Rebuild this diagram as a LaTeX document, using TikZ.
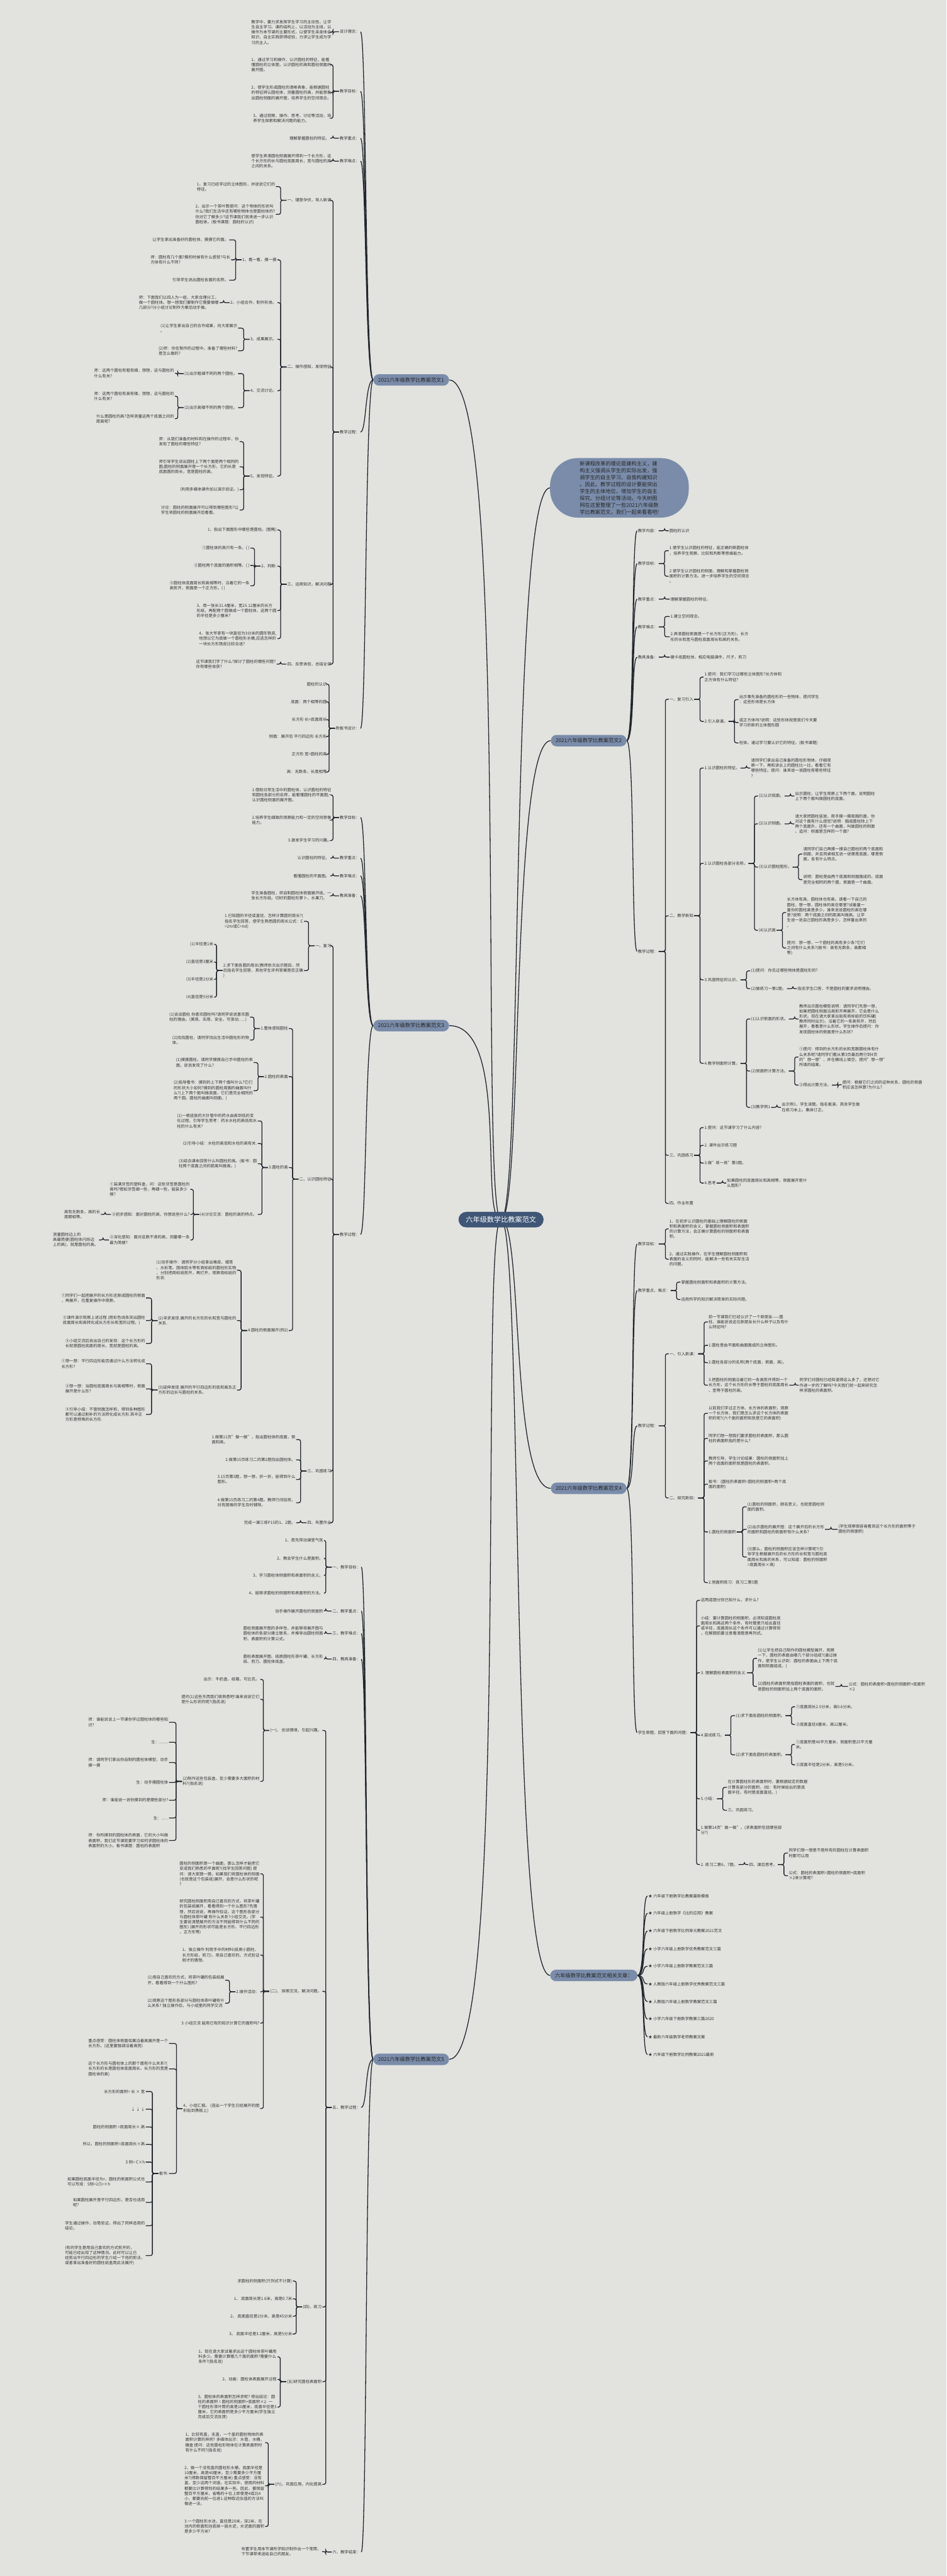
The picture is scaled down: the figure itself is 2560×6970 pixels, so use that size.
\documentclass[tikz,border=0pt]{standalone}
\usepackage{fontspec}
\setmainfont{Noto Sans CJK SC}
\definecolor{bgc}{HTML}{E2E2DE}
\definecolor{ln}{HTML}{22272E}
\definecolor{txt}{HTML}{333333}
\definecolor{brc}{HTML}{7A8CAA}
\definecolor{ctrc}{HTML}{3F5676}
\pgfdeclarelayer{back}\pgfdeclarelayer{bg}\pgfsetlayers{back,bg,main}
\tikzset{
 tx/.style={font=\fontsize{10.8}{14}\selectfont, text=txt, inner xsep=2pt, inner ysep=1pt, align=left},
 lt/.style={tx, anchor=east},
 rt/.style={tx, anchor=west},
 conn/.style={draw=ln, line width=2.2pt, rounded corners=5pt},
 brn/.style={fill=brc, text=black!85, rounded corners=15.5pt, minimum height=31pt, inner xsep=13pt, font=\fontsize{14}{17}\selectfont},
 rootn/.style={fill=brc, text=black!85, rounded corners=75pt, minimum width=375pt, minimum height=161pt, align=left, font=\fontsize{14}{18.6}\selectfont},
 ctrn/.style={fill=ctrc, text=white, rounded corners=21pt, minimum height=42pt, inner xsep=20pt, font=\fontsize{19}{22}\selectfont},
}
\newcommand\brL[3]{\foreach \kid in {#3}{\draw[conn] (#1.west) -- ++(-#2,0) |- (\kid.east);}}
\newcommand\brR[3]{\foreach \kid in {#3}{\draw[conn] (#1.east) -- ++(#2,0) |- (\kid.west);}}
\newcommand\cvL[2]{\foreach \kid in {#2}{\draw[conn] (#1.west) .. controls +(-22,0) and +(16,0) .. (\kid.east);}}
\newcommand\cvR[2]{\foreach \kid in {#2}{\draw[conn] (#1.east) .. controls +(22,0) and +(-16,0) .. (\kid.west);}}
\begin{document}
\begin{tikzpicture}[x=1pt,y=-1pt]
\useasboundingbox (0,0) rectangle (2560,6970);
\begin{pgfonlayer}{back}\fill[bgc] (0,0) rectangle (2560,6970);\end{pgfonlayer}

% ---------- centre ----------
\node[ctrn] (ctr) at (1355,3300) {六年级数学比教案范文};

% ---------- branch nodes ----------
\node[brn] (b1) at (1112,1028) {2021六年级数学比教案范文1};
\node[brn] (b3) at (1112,2775) {2021六年级数学比教案范文3};
\node[brn] (b5) at (1112,5572) {2021六年级数学比教案范文5};
\node[rootn] (rt0) at (1675,1320) {新课程改革的理论是建构主义，建\\构主义强调从学生的实际出发，强\\调学生的自主学习、自我构建知识\\。因此，教学过程的设计要能突出\\学生的主体地位，增加学生的自主\\探究、分组讨论等活动。今天树图\\网在这里整理了一些2021六年级数\\学比教案范文，我们一起来看看吧!};
\node[brn] (b2) at (1592,2004) {2021六年级数学比教案范文2};
\node[brn] (b4) at (1592,4027) {2021六年级数学比教案范文4};
\node[brn] (b6) at (1606,5345) {六年级数学比教案范文相关文章：};

% ================= 范文1 =================
\node[lt] (p1a) at (975,86) {设计理念：};
\node[lt] (p1b) at (975,247) {教学目标：};
\node[lt] (p1c) at (975,374) {教学重点：};
\node[lt] (p1d) at (975,436) {教学难点：};
\node[lt] (p1e) at (975,1169) {教学过程：};
\node[lt] (p1f) at (975,1971) {附板书设计：};
\node[lt] (q1) at (898,87) {教学中，要力求发挥学生学习的主动性，让学\\生自主学习。课的结构上，以活动为主线，以\\操作为本节课的主要形式，以使学生亲身体会\\知识，自主实践获得经验，力求让学生成为学\\习的主人。};
\node[lt] (q2) at (898,175) {1、通过学习和操作，认识圆柱的特征，能看\\懂圆柱的立体图，认识圆柱的高和圆柱侧面的\\展开图。};
\node[lt] (q3) at (898,251) {2、使学生形成圆柱的清晰表象，能根据圆柱\\的特征辨认圆柱体，测量圆柱的高，并能想象\\出圆柱侧面的展开图，培养学生的空间观念。};
\node[lt] (q4) at (898,320) {3、通过观察、操作、思考、讨论等活动，培\\养学生探索和解决问题的能力。};
\node[lt] (q5) at (893,374) {理解掌握圆柱的特征。};
\node[lt] (q6) at (898,436) {使学生弄清圆柱侧面展开得到一个长方形，这\\个长方形的长与圆柱底面周长，宽与圆柱的高\\之间的关系。};
\node[lt] (s1) at (898,542) {一、铺垫孕伏，导入新课};
\node[lt] (s2) at (898,993) {二、操作感知，发现特征};
\node[lt] (s3) at (898,1581) {三、运用知识，解决问题};
\node[lt] (s4) at (898,1797) {四、反思体验，总结全课};
\node[lt] (t1) at (746,505) {1、复习已经学过的立体图形，并说说它们的\\特征。};
\node[lt] (t2) at (746,580) {2、出示一个茶叶筒提问：这个物体的形状叫\\什么?我们生活中还有哪些物体也是圆柱体的?\\你对它了解多少?这节课我们就来进一步认识\\圆柱体。(板书课题：圆柱的认识)};
\node[lt] (u1) at (750,703) {1、看一看、摸一摸};
\node[lt] (u2) at (750,819) {2、小组合作，制作形体。};
\node[lt] (u3) at (750,918) {3、成果展示。};
\node[lt] (u4) at (750,1057) {4、交流讨论。};
\node[lt] (u5) at (750,1288) {5、发现特征。};
\node[lt] (v1) at (620,649) {让学生拿出准备好的圆柱体，摸摸它的面。};
\node[lt] (v2) at (625,703) {师：圆柱有几个面?摸的时候有什么感觉?与长\\方体有什么不同?};
\node[lt] (v3) at (620,758) {引导学生说出圆柱各面的名称。};
\node[lt] (v4) at (594,819) {师：下面我们以四人为一组，大家合理分工，\\做一个圆柱体。想一想我们要制作它需要做哪\\几部分?分小组讨论制作方案后动手做。};
\node[lt] (v5) at (644,888) {(1)让学生拿出自己的合作成果，向大家展示\\。};
\node[lt] (v6) at (644,949) {(2)师：你在制作的过程中，准备了哪些材料?\\是怎么做的?};
\node[lt] (v7) at (644,1011) {(1)出示粗细不同的两个圆柱。};
\node[lt] (v8) at (644,1103) {(2)出示高矮不同的两个圆柱。};
\node[lt] (w1) at (473,1010) {师：这两个圆柱有粗有细，想想，这与圆柱的\\什么有关?};
\node[lt] (w2) at (473,1072) {师：这两个圆柱有高有矮，想想，这与圆柱的\\什么有关?};
\node[lt] (w3) at (473,1133) {什么是圆柱的高?怎样测量这两个底面之间的\\距离呢?};
\node[lt] (v9) at (648,1195) {师：从我们准备的材料和在操作的过程中，你\\发现了圆柱的哪些特征?};
\node[lt] (v10) at (648,1263) {师引导学生说出圆柱上下两个面是两个相同的\\圆;圆柱的侧面展开是一个长方形，它的长是\\底面圆的周长，宽是圆柱的高。};
\node[lt] (v11) at (648,1325) {(利用多媒体课件加以演示验证。)};
\node[lt] (v12) at (648,1380) {讨论：圆柱的侧面展开可以得到哪些图形?让\\学生将圆柱的侧面展开后看看。};
\node[lt] (x1) at (750,1434) {1、指出下面图形中哪些是圆柱。(图略)};
\node[lt] (x2) at (750,1532) {2、判断:};
\node[lt] (y1) at (677,1483) {①圆柱体的高只有一条。( )};
\node[lt] (y2) at (677,1530) {②圆柱两个底面的面积相等。( )};
\node[lt] (y3) at (677,1585) {③圆柱体底面周长和高相等时，沿着它的一条\\高剪开，侧面是一个正方形。( )};
\node[lt] (x3) at (750,1652) {3、用一张长31.4厘米，宽25.12厘米的长方\\形纸，再配两个圆做成一个圆柱体，这两个圆\\的半径是多少厘米?};
\node[lt] (x4) at (750,1728) {4、张大爷家有一块直径为3分米的圆形铁皮,\\他想以它为底做一个圆柱形水桶,应选怎样的\\一块长方形铁皮比较合适?};
\node[lt] (x5) at (748,1797) {这节课我们学了什么?探讨了圆柱的哪些问题?\\你有哪些收获?};
\node[lt] (z1) at (886,1851) {圆柱的认识};
\node[lt] (z2) at (886,1899) {底面：两个相等的圆};
\node[lt] (z3) at (886,1947) {长方形 长=底面周长};
\node[lt] (z4) at (886,1993) {侧面：展开后 平行四边形 长方形};
\node[lt] (z5) at (886,2041) {正方形 宽=圆柱的高};
\node[lt] (z6) at (886,2089) {高：无数条，长度相等};

% ================= 范文3 =================
\node[lt] (p3a) at (975,2212) {教学目标：};
\node[lt] (p3b) at (975,2322) {教学重点：};
\node[lt] (p3c) at (975,2370) {教学难点：};
\node[lt] (p3d) at (975,2424) {教具准备：};
\node[lt] (p3e) at (975,3340) {教学过程：};
\node[lt] (c1) at (898,2151) {1.借助日常生活中的圆柱体，认识圆柱的特征\\和圆柱各部分的名称，能看懂圆柱的平面图;\\认识圆柱侧面的展开图。};
\node[lt] (c2) at (898,2219) {2.培养学生细致的观察能力和一定的空间想像\\能力。};
\node[lt] (c3) at (898,2274) {3.激发学生学习的兴趣。};
\node[lt] (c4) at (893,2322) {认识圆柱的特征。};
\node[lt] (c5) at (893,2370) {看懂圆柱的平面图。};
\node[lt] (c6) at (898,2424) {学生准备圆柱，师自制圆柱体侧面展开纸，一\\张长方形纸。切好的圆柱形萝卜，水果刀。};
\node[lt] (d1) at (898,2559) {一、复习};
\node[lt] (d2) at (898,3190) {二、认识圆柱特征};
\node[lt] (d3) at (898,3980) {三、巩固练习};
\node[lt] (d4) at (898,4120) {四、布置作业};
\node[lt] (e1) at (822,2493) {1.已知圆的半径或直径，怎样计算圆的周长?(\\指名学生回答，使学生熟悉圆的周长公式：C\\=2πr或C=πd)};
\node[lt] (e2) at (822,2626) {2.求下面各圆的周长(教师依次出示题目，然\\后指名学生回答，其他学生评判答案是否正确\\)};
\node[lt] (f1) at (579,2555) {(1)半径是1米};
\node[lt] (f2) at (579,2603) {(2)直径是3厘米};
\node[lt] (f3) at (579,2650) {(3)半径是2分米};
\node[lt] (f4) at (579,2698) {(4)直径是5分米};
\node[lt] (g1) at (781,2783) {1.整体感知圆柱};
\node[lt] (g2) at (781,2913) {2.圆柱的表面};
\node[lt] (g3) at (781,3159) {3.圆柱的高};
\node[lt] (g4) at (781,3600) {4.圆柱的侧面展开(例2)};
\node[lt] (h1) at (676,2752) {(1)谈谈圆柱.你喜欢圆柱吗?请同学说说喜欢圆\\柱的理由。(美观、实用、安全、可滚动......)};
\node[lt] (h2) at (676,2814) {(2)找找圆柱，请同学找出生活中圆柱形的物\\体。};
\node[lt] (h3) at (686,2875) {(1)摸摸圆柱。请同学摸摸自己手中圆柱的表\\面，说说发现了什么?};
\node[lt] (h4) at (686,2951) {(2)指导看书：摸到的上下两个面叫什么?它们\\的形状大小如何?摸到的圆柱周围的曲面叫什\\么?(上下两个面叫做底面，它们是完全相同的\\两个圆。圆柱的曲面叫侧面。)};
\node[lt] (h5) at (697,3033) {(1)一根竖放的大针管中的药水由高到低的变\\化过程，引导学生思考：药水水柱的高低和水\\柱的什么有关?};
\node[lt] (h6) at (697,3094) {(2)引导小结：水柱的高低和水柱的高有关.};
\node[lt] (h7) at (697,3149) {(3)结合课本回答什么叫圆柱的高。(板书：圆\\柱两个底面之间的距离叫做高。)};
\node[lt] (h8) at (697,3286) {(4)讨论交流：圆柱的高的特点。};
\node[lt] (i1) at (515,3218) {①装满牙签的塑料盒，问：这些牙签是圆柱的\\高吗?假如牙签细一些，再细一些，能装多少\\根?};
\node[lt] (i2) at (515,3286) {②初步感知：面对圆柱的高，你想说些什么?};
\node[lt] (i3) at (515,3355) {③深化感知：面对这数不清的高，测量哪一条\\最为简便?};
\node[lt] (j1) at (273,3286) {高有无数条，高的长\\度都相等。};
\node[lt] (j2) at (268,3355) {测量圆柱边上的\\高最简便(圆柱体闪烁边\\上的高)，就是圆柱的高。};
\node[lt] (h9) at (641,3437) {(1)动手操作：请同学分小组拿出橡皮、蜡笔\\、水彩笔、固体胶水等有商标纸的圆柱形实物\\，分别把商标纸剪开，再打开，观察商标纸的\\形状.};
\node[lt] (h10) at (641,3573) {(2)寻求发现.展开的长方形的长和宽与圆柱的\\关系.};
\node[lt] (h11) at (641,3761) {(3)延伸发现.展开的平行四边形的底和高及正\\方形的边长与圆柱的关系。};
\node[lt] (k1) at (395,3512) {①同学们一起把展开的长方形还原成圆柱的侧面\\，再展开，在重复操作中观察。};
\node[lt] (k2) at (395,3573) {②课件演示观察上述过程.(用彩色线条突出圆柱\\底面周长和高转化成长方形长和宽的过程。)};
\node[lt] (k3) at (395,3635) {③小组交流后说出自己的发现：这个长方形的\\长就是圆柱底面的周长，宽就是圆柱的高。};
\node[lt] (k4) at (395,3690) {①想一想：平行四边形能否通过什么方法转化成\\长方形?};
\node[lt] (k5) at (395,3758) {②想一想：当圆柱底面周长与高相等时，侧面\\展开是什么形?};
\node[lt] (k6) at (395,3827) {③引导小结：不管侧面怎样剪，得到各种图形\\都可以通过割补的方法转化成长方形.其中正\\方形是特殊的长方形.};
\node[lt] (l1) at (801,3895) {1.做第11页"做一做"，指出圆柱体的底面，侧\\面和高。};
\node[lt] (l2) at (801,3950) {2.做第15页练习二的第2题找出圆柱体。};
\node[lt] (l3) at (801,4003) {3.15页第3题，想一想，折一折，能得到什么\\图形。};
\node[lt] (l4) at (801,4066) {4.做第15页练习二的第4题。教师行间巡视，\\对有困难的学生及时辅导。};
\node[lt] (l5) at (801,4120) {完成一课三练P15的1、2题。};

% ================= 范文5 =================
\node[lt] (p5a) at (977,4240) {一、教学目标：};
\node[lt] (p5b) at (977,4359) {二、教学重点：};
\node[lt] (p5c) at (977,4420) {三、教学难点：};
\node[lt] (p5d) at (977,4489) {四、教具准备：};
\node[lt] (p5e) at (977,5702) {五、教学过程：};
\node[lt] (p5f) at (977,6905) {六、教学结束：};
\node[lt] (m1) at (876,4168) {1、首先带动课堂气氛};
\node[lt] (m2) at (876,4216) {2、教会学生什么是面积。};
\node[lt] (m3) at (876,4263) {3、学习圆柱体侧面积和表面积的含义。};
\node[lt] (m4) at (876,4311) {4、能够求圆柱的侧面积和表面积的方法。};
\node[lt] (m5) at (876,4359) {动手操作展开圆柱的侧面积};
\node[lt] (m6) at (876,4420) {圆柱侧面展开图的多样性，并能够将展开图与\\圆柱体的各部分建立联系，并推导出圆柱侧面\\积、表面积的计算公式。};
\node[lt] (m7) at (876,4489) {圆柱表面展开图、纸质圆柱形茶叶罐、长方形\\纸、剪刀、圆柱体纸盒。};
\node[lt] (n1) at (872,4682) {(一)、 创设情境，引起兴趣。};
\node[lt] (n2) at (872,5388) {(二)、 探索交流，解决问题。};
\node[lt] (n4) at (872,6242) {(四)、练习};
\node[lt] (n5) at (872,6444) {(五)研究圆柱表面积};
\node[lt] (n6) at (872,6722) {(六)、巩固应用，内化提高};
\node[lt] (o1) at (704,4544) {出示：牛奶盒，纸箱，可比克。};
\node[lt] (o2) at (704,4598) {提问(1)这些东西我们很熟悉吧!谁来说说它们\\是什么形状的呢?(指名说)};
\node[lt] (o3) at (704,4820) {(2)制作这些包装盒，至少需要多大面积的材\\料?(指名说)};
\node[lt] (r1) at (457,4660) {师：谁能说说上一节课你学过圆柱体的哪些知\\识?};
\node[lt] (r2) at (457,4714) {生：........};
\node[lt] (r3) at (457,4769) {师：请同学们拿出你自制的圆柱体模型，动手\\摸一摸};
\node[lt] (r4) at (457,4823) {生：动手摸圆柱体};
\node[lt] (r5) at (457,4871) {师：谁能说一说你摸到的是哪些部分?};
\node[lt] (r6) at (457,4919) {生：......};
\node[lt] (r7) at (457,4980) {师：你所摸到的圆柱体的表面，它的大小叫做\\表面积，我们这节课就要学习如何求圆柱体的\\表面积的大小。板书课题：圆柱的表面积};
\node[lt] (o4) at (704,5070) {圆柱的侧面积是一个曲面，那么怎样才能把它\\变成我们熟悉的平面呢?(找学生回答问题) 提\\问：请大家猜一猜，如果我们将圆柱体的侧面\\(也就是这个包装纸)展开，会是什么形状的呢\\?};
\node[lt] (o5) at (704,5187) {研究圆柱侧面积用自己喜欢的方式，将茶叶罐\\的包装纸展开，看看得到一个什么图形?先猜\\想，然后说说，再操作验证。这个图形各部分\\与圆柱体茶叶罐 有什么关系?小组交流。(学\\生要说清楚展开的方法不同能得到什么不同的\\图形) (展开的形状可能是长方形、平行四边形\\、正方形等)};
\node[lt] (o6) at (704,5290) {1、独立操作 利用手中的材料(纸质小圆柱，\\长方形纸，剪刀)，用自己喜欢的。方式验证\\刚才的猜想。};
\node[lt] (o7) at (704,5389) {2.操作活动：};
\node[lt] (o8) at (704,5474) {3.小组交流 能用已有的知识计算它的面积吗?};
\node[lt] (o9) at (704,5705) {4、小组汇报。 (选出一个学生已经展开的图\\形贴到黑板上)};
\node[lt] (r8) at (609,5358) {(1)用自己喜欢的方式，将茶叶罐的包装纸展\\开，看看得到一个什么图形?};
\node[lt] (r9) at (609,5420) {(2)观察这个图形各部分与圆柱体茶叶罐有什\\么关系? 独立操作后，与小组里的同学交流};
\node[lt] (r10) at (457,5529) {重点感受：圆柱体侧面如果沿着高展开是一个\\长方形。(这里要强调沿着高剪)};
\node[lt] (r11) at (457,5598) {这个长方形与圆柱体上的那个面有什么关系?(\\长方形的长是圆柱体底面周长、长方形的宽是\\圆柱体的高)};
\node[lt] (r12) at (457,5881) {板书:};
\node[lt] (bs1) at (394,5659) {长方形的面积= 长 × 宽};
\node[lt] (bs2) at (394,5707) {↓ ↓ ↓};
\node[lt] (bs3) at (394,5755) {圆柱的侧面积 =底面周长× 高};
\node[lt] (bs4) at (394,5802) {所以，圆柱的侧面积=底面周长×高};
\node[lt] (bs5) at (394,5850) {S 侧= C×h};
\node[lt] (bs6) at (394,5904) {如果圆柱底面半径为r，圆柱的侧面积公式也\\可以写成：S侧=2∏r×h};
\node[lt] (bs7) at (394,5959) {如果圆柱展开是平行四边形，是否也适用\\呢?};
\node[lt] (bs8) at (394,6022) {学生通过操作，动笔验证，得出了同样适用的\\结论。};
\node[lt] (bs9) at (394,6103) {(有的学生是用自己喜欢的方式剪开的，\\可能已经出现了这种情况。此时可以让已\\经剪出平行四边形的学生介绍一下他的剪法，\\或者拿出准备好的圆柱纸盒用此法展开)};
\node[lt] (o10) at (792,6172) {求圆柱的侧面积(只列式不计算)};
\node[lt] (o11) at (792,6220) {1、 底面周长是1.6米，高是0.7米};
\node[lt] (o12) at (792,6267) {2、 底面直径是2分米，高是45分米};
\node[lt] (o13) at (792,6315) {3、 底面半径是3.2厘米，高是5分米};
\node[lt] (o14) at (750,6377) {1、现在请大家试着求出这个圆柱体茶叶罐用\\料多少。需要计算哪几个面的面积?需要什么\\条件?(指名说)};
\node[lt] (o15) at (750,6438) {2、动画：圆柱体表面展开过程};
\node[lt] (o16) at (750,6513) {3、圆柱体的表面积怎样求呢? 得出结论：圆\\柱的表面积 = 圆柱的侧面积+底面积×2. 一\\个圆柱形茶叶筒的高是10厘米，底面半径是3\\厘米，它的表面积是多少平方厘米(学生独立\\完成后交流反馈)};
\node[lt] (o17) at (717,6609) {1、比较有盖，无盖，一个盖的圆柱物体的表\\面积计算的异同? 多媒体出示：水管，水桶，\\糖盒 提问：这些圆柱形物体在计算表面积时\\有什么不同?(指名说)};
\node[lt] (o18) at (717,6726) {2、做一个没有盖的圆柱形水桶，底面半径是\\10厘米，高是40厘米，至少需要多少平方厘\\米?(得数保留整百平方厘米) 重点感受：没有\\盖，至少这两个词语。在实际中，使用的材料\\都要比计算得到的结果多一些。因此，要保留\\整百平方厘米，省略的十位上即使是4或比4\\小，都要向前一位进1.这种取近似值的方法叫\\做进一法。};
\node[lt] (o19) at (717,6836) {3.一个圆柱形水池，直径是20米，深2米，在\\池内的侧面和池底抹一层水泥，水泥面的面积\\是多少平方米?};
\node[lt] (o20) at (871,6904) {布置学生用本节课所学知识制作出一个笔筒，\\下节课带来送给自己的朋友。};

% ================= 范文2 =================
\node[rt] (P2a) at (1723,1436) {教学内容：};
\node[rt] (P2b) at (1723,1525) {教学目标：};
\node[rt] (P2c) at (1723,1621) {教学重点：};
\node[rt] (P2d) at (1723,1696) {教学难点：};
\node[rt] (P2e) at (1723,1778) {教具准备：};
\node[rt] (P2f) at (1723,2574) {教学过程：};
\node[rt] (Q1) at (1808,1436) {圆柱的认识};
\node[rt] (Q2) at (1808,1490) {1.使学生认识圆柱的特征，能正确判断圆柱体\\，培养学生观察、比较和判断等思维能力。};
\node[rt] (Q3) at (1808,1559) {2.使学生认识圆柱的侧面，理解和掌握圆柱侧\\面积的计算方法。进一步培养学生的空间观念\\。};
\node[rt] (Q4) at (1811,1621) {理解掌握圆柱的特征。};
\node[rt] (Q5) at (1811,1668) {1.建立空间观念。};
\node[rt] (Q6) at (1811,1723) {2.弄清圆柱侧面是一个长方形(正方形)，长方\\形的长和宽与圆柱底面周长和高的关系。};
\node[rt] (Q7) at (1811,1778) {硬卡纸圆柱体，相应电脑课件，尺子，剪刀};
\node[rt] (S1) at (1808,1892) {一、复习引入};
\node[rt] (S2) at (1808,2478) {二、教学新知};
\node[rt] (S3) at (1808,3126) {三、巩固练习};
\node[rt] (S4) at (1808,3256) {四、作业布置};
\node[rt] (T1) at (1903,1832) {1.提问：我们学习过哪些立体图形?长方体和\\正方体有什么特征?};
\node[rt] (T2) at (1903,1952) {2.引入新课。};
\node[rt] (U1) at (1997,1893) {出示事先准备的圆柱形的一些物体，提问学生\\：这些形体是长方体};
\node[rt] (U2) at (1997,1955) {或正方体吗?说明：这些形体就是我们今天要\\学习的新的立体图形圆};
\node[rt] (U3) at (1997,2010) {柱体。通过学习要认识它的特征。(板书课题)};
\node[rt] (T3) at (1903,2078) {1.认识圆柱的特征。};
\node[rt] (T4) at (1903,2336) {2.认识圆柱各部分名称。};
\node[rt] (T5) at (1903,2651) {3.巩固特征的认识。};
\node[rt] (T6) at (1903,2877) {4.教学侧面积计算。};
\node[rt] (U4) at (2029,2078) {请同学们拿出自己准备的圆柱形物体，仔细观\\察一下，再和讲台上的圆柱比一比，看看它有\\哪些特征。提问：谁来说一说圆柱有哪些特征\\?};
\node[rt] (V1) at (2050,2154) {(1)认识底面。};
\node[rt] (V2) at (2050,2229) {(2)认识侧面。};
\node[rt] (V3) at (2050,2346) {(3)认识圆柱图形。};
\node[rt] (V4) at (2050,2517) {(4)认识高};
\node[rt] (W1) at (2148,2154) {出示圆柱，让学生观察上下两个面。说明圆柱\\上下两个面叫做圆柱的底面。};
\node[rt] (W2) at (2148,2229) {请大家把圆柱竖放，用手摸一摸周围的面，你\\对这个面有什么感觉?说明：围成圆柱除上下\\两个底面外，还有一个曲面，叫做圆柱的侧面\\。追问：侧面是怎样的一个面?};
\node[rt] (W3) at (2170,2311) {请同学们自己再摸一摸自己圆柱的两个底面和\\侧面，并且同桌相互说一说哪是底面，哪是侧\\面，各有什么特点。};
\node[rt] (W4) at (2170,2380) {说明：圆柱是由两个底面和侧面围成的。底面\\是完全相同的两个圆，侧面是一个曲面。};
\node[rt] (W5) at (2126,2469) {长方体有高，圆柱体也有高。请看一下自己的\\圆柱，想一想，圆柱体的高在哪里?试着量一\\量你的圆柱高是多少。谁来说说圆柱的高在哪\\里?说明：两个底面之间的距离叫做高。让学\\生说一说自己圆柱的高是多少，怎样量出来的\\。};
\node[rt] (W6) at (2126,2565) {提问：想一想，一个圆柱的高有多少条?它们\\之间有什么关系?(板书：高有无数条，高都相\\等)};
\node[rt] (V5) at (2029,2627) {(1)提问：你见过哪些物体是圆柱形的?};
\node[rt] (V6) at (2029,2675) {(2)做练习一第1题。};
\node[rt] (W7) at (2155,2675) {指名学生口答，不是圆柱的要求说明理由。};
\node[rt] (V7) at (2029,2757) {(1)认识侧面的形状。};
\node[rt] (V8) at (2029,2898) {(2)侧面积计算方法。};
\node[rt] (V9) at (2029,2996) {(3)教学例1};
\node[rt] (W8) at (2159,2757) {教师出示圆柱模型说明：请同学们先想一想，\\如果把圆柱侧面沿高剪开再展开，它会是什么\\形状。现在请大家拿出贴有商标纸的饮料罐(\\教师同时出示)，沿着它的一条高剪开，然后\\展开，看看是什么形状。学生操作后提问：你\\发现圆柱体的侧面是什么形状?};
\node[rt] (W9) at (2159,2860) {①提问：得到的长方形的长和宽跟圆柱体有什\\么关系呢?请同学们看从第3页最后两行到4页\\的"想一想"，并在横线上填空。提问"想一想"\\所填的结果。};
\node[rt] (W10) at (2159,2936) {②得出计算方法。};
\node[rt] (X1) at (2276,2935) {提问：根据它们之间的这种关系，圆柱的侧面\\积应该怎样算?为什么?};
\node[rt] (W11) at (2112,2996) {出示例1，学生读题。指名板演，其余学生做\\在练习本上。集体订正。};
\node[rt] (T7) at (1903,3051) {1.提问：这节课学习了什么内容?};
\node[rt] (T8) at (1903,3099) {2. 课件出示练习题};
\node[rt] (T9) at (1903,3147) {3.做"练一练"第3题。};
\node[rt] (T10) at (1903,3201) {4.思考};
\node[rt] (U5) at (1964,3201) {如果圆柱的底面周长和高相等，侧面展开是什\\么图形?};

% ================= 范文4 =================
\node[rt] (P4a) at (1723,3366) {教学目标：};
\node[rt] (P4b) at (1723,3492) {教学重点，难点：};
\node[rt] (P4c) at (1723,3858) {教学过程：};
\node[rt] (P4d) at (1723,4688) {学生审题，回答下面的问题：};
\node[rt] (Y1) at (1808,3325) {1、在初步认识圆柱的基础上理解圆柱的侧面\\积和表面积的含义，掌握圆柱侧面积和表面积\\的计算方法，会正确计算圆柱的侧面积和表面\\积。};
\node[rt] (Y2) at (1808,3407) {2、通过实践操作，在学生理解圆柱侧面积和\\表面的含义的同时，能解决一些有关实际生活\\的问题。};
\node[rt] (Y3) at (1840,3469) {掌握圆柱侧面积和表面积的计算方法。};
\node[rt] (Y4) at (1840,3516) {运用所学的知识解决简单的实际问题。};
\node[rt] (Y5) at (1808,3663) {一、引入新课：};
\node[rt] (Y6) at (1808,4053) {二、探究新知：};
\node[rt] (Z1) at (1914,3577) {前一节课我们已经认识了一个新朋友——圆\\柱，谁能说说这位新朋友长什么样子以及有什\\么特征吗?};
\node[rt] (Z2) at (1914,3640) {1.圆柱是由平面和曲面围成的立体图形。};
\node[rt] (Z3) at (1914,3687) {2.圆柱各部分的名称(两个底面，侧面，高)。};
\node[rt] (Z4) at (1914,3748) {3.把圆柱的侧面沿着它的一条高剪开得到一个\\长方形，这个长方形的长等于圆柱的底面周长\\、宽等于圆柱的高。};
\node[rt] (Z5) at (2160,3748) {同学们对圆柱已经知道得这么多了，还想对它\\作进一步的了解吗?今天我们就一起来研究怎\\样求圆柱的表面积。};
\node[rt] (Z6) at (1914,3824) {以前我们学过正方体、长方体的表面积，观察\\一个长方体，我们是怎么求这个长方体的表面\\积的呢?(六个面的面积和就是它的表面积)};
\node[rt] (Z7) at (1914,3892) {同学们想一想我们要求圆柱的表面积，那么圆\\柱的表面积指的是什么?};
\node[rt] (Z8) at (1914,3953) {教师引导，学生讨论结果：圆柱的侧面积加上\\两个底面的面积就是圆柱的表面积。};
\node[rt] (Z9) at (1914,4016) {板书：(圆柱的表面积=圆柱的侧面积+两个底\\面的面积)};
\node[rt] (Z10) at (1914,4145) {1.圆柱的侧面积};
\node[rt] (Z11) at (1914,4282) {2.侧面积练习：练习二第5题};
\node[rt] (A1) at (2019,4077) {(1)圆柱的侧面积，顾名思义，也就是圆柱侧\\面的面积。};
\node[rt] (A2) at (2019,4138) {(2)出示圆柱的展开图：这个展开后的长方形\\的面积和圆柱的侧面积有什么关系?};
\node[rt] (A3) at (2019,4213) {(3)那么，圆柱的侧面积应该怎样计算呢?(引\\导学生根据展开后的长方形的长和宽与圆柱底\\面周长和高的关系，可以知道：圆柱的侧面积\\=底面周长×高)};
\node[rt] (A4) at (2265,4138) {(学生观察很容易看到这个长方形的面积等于\\圆柱的侧面积)};
\node[rt] (B1) at (1893,4330) {这两道题分别已知什么，求什么?};
\node[rt] (B2) at (1893,4399) {小结：要计算圆柱的侧面积，必须知道圆柱底\\面周长和高这两个条件，有时题里只给出直径\\或半径，底面周长这个条件可以通过计算得到\\，在解题前要注意看清题意再列式。};
\node[rt] (B3) at (1893,4526) {3. 理解圆柱表面积的含义.};
\node[rt] (B4) at (1893,4695) {4.尝试练习。};
\node[rt] (B5) at (1893,4867) {5.小结：};
\node[rt] (B6) at (1893,4952) {1.做第14页"做一做"。(求表面积包括哪些部\\分?)};
\node[rt] (B7) at (1893,5045) {2. 练习二第6，7题。};
\node[rt] (C1) at (2047,4487) {(1)让学生把自己制作的圆柱模型展开，观察\\一下，圆柱的表面由哪几个部分组成?(通过操\\作，使学生认识到：圆柱的表面由上下两个底\\面和侧面组成。)};
\node[rt] (C2) at (2047,4563) {(2)圆柱的表面积是指圆柱表面的面积，也就\\是圆柱的侧面积加上两个底面的面积。};
\node[rt] (C3) at (2293,4563) {公式：圆柱的表面积=圆柱的侧面积+底面积\\×2};
\node[rt] (C4) at (1988,4642) {(1)求下面各圆柱的侧面积。};
\node[rt] (C5) at (1988,4748) {(2)求下面各圆柱的表面积。};
\node[rt] (D1) at (2150,4618) {①底面周长2.5分米，高0.6分米。};
\node[rt] (D2) at (2150,4666) {②底面直径8厘米，高12厘米。};
\node[rt] (D3) at (2150,4720) {①底面积是40平方厘米，侧面积是25平方厘\\米。};
\node[rt] (D4) at (2150,4775) {②底面半径是2分米，高是5分米。};
\node[rt] (C6) at (1966,4836) {在计算圆柱形的表面积时，要根据给定的数据\\计算各部分的面积。(如：有时候给出的是底\\面半径，有时是底面直径。)};
\node[rt] (C7) at (1966,4898) {三、巩固练习。};
\node[rt] (C8) at (2024,5045) {四、课后思考。};
\node[rt] (D5) at (2131,5014) {同学们想一想是不是所有的圆柱在计算表面积\\时都可以用};
\node[rt] (D6) at (2131,5075) {公式：圆柱的表面积=圆柱的侧面积+底面积\\×2来计算呢?};

% ================= 相关文章 =================
\node[rt] (E1) at (1751,5130) {★ 六年级下册数学比教案最新模板};
\node[rt] (E2) at (1751,5177) {★ 六年级上册数学《比的应用》教案};
\node[rt] (E3) at (1751,5225) {★ 六年级下册数学比例单元教案2021范文};
\node[rt] (E4) at (1751,5273) {★ 小学六年级上册数学优秀教案范文三篇};
\node[rt] (E5) at (1751,5320) {★ 小学六年级上册数学教案范文三篇};
\node[rt] (E6) at (1751,5368) {★ 人教版六年级上册数学优秀教案范文三篇};
\node[rt] (E7) at (1751,5416) {★ 人教版六年级上册数学教案范文三篇};
\node[rt] (E8) at (1751,5463) {★ 小学六年级下册数学教案三篇2020};
\node[rt] (E9) at (1751,5511) {★ 最新六年级数学老师教案文案};
\node[rt] (E10) at (1751,5559) {★ 六年级下册数学比例教案2021最新};

% ================= connectors =================
\begin{pgfonlayer}{bg}
\foreach \bb in {b1,b3,b5}{\draw[conn] (ctr.center) .. controls +(-60,0) and +(165,0) .. (\bb.east);}
\foreach \bb in {rt0,b2,b4,b6}{\draw[conn] (ctr.center) .. controls +(60,0) and +(-110,0) .. (\bb.west);}
\cvL{b1}{p1a,p1b,p1c,p1d,p1e,p1f}
\cvL{b3}{p3a,p3b,p3c,p3d,p3e}
\cvL{b5}{p5a,p5b,p5c,p5d,p5e,p5f}
\cvR{b2}{P2a,P2b,P2c,P2d,P2e,P2f}
\cvR{b4}{P4a,P4b,P4c,P4d}
\cvR{b6}{E1,E2,E3,E4,E5,E6,E7,E8,E9,E10}
% 范文1
\brL{p1a}{16}{q1}\brL{p1b}{16}{q2,q3,q4}\brL{p1c}{16}{q5}\brL{p1d}{16}{q6}
\brL{p1e}{16}{s1,s2,s3,s4}
\brL{s1}{16}{t1,t2}\brL{s2}{16}{u1,u2,u3,u4,u5}
\brL{u1}{16}{v1,v2,v3}\brL{u2}{16}{v4}\brL{u3}{16}{v5,v6}\brL{u4}{16}{v7,v8}\brL{u5}{16}{v9,v10,v11,v12}
\brL{v7}{16}{w1}\brL{v8}{16}{w2,w3}
\brL{s3}{16}{x1,x2,x3,x4}\brL{x2}{16}{y1,y2,y3}\brL{s4}{16}{x5}
\brL{p1f}{16}{z1,z2,z3,z4,z5,z6}
% 范文3
\brL{p3a}{16}{c1,c2,c3}\brL{p3b}{16}{c4}\brL{p3c}{16}{c5}\brL{p3d}{16}{c6}
\brL{p3e}{16}{d1,d2,d3,d4}
\brL{d1}{16}{e1,e2}\brL{e2}{16}{f1,f2,f3,f4}
\brL{d2}{16}{g1,g2,g3,g4}
\brL{g1}{16}{h1,h2}\brL{g2}{16}{h3,h4}\brL{g3}{16}{h5,h6,h7,h8}
\brL{h8}{16}{i1,i2,i3}\brL{i2}{16}{j1}\brL{i3}{16}{j2}
\brL{g4}{16}{h9,h10,h11}\brL{h10}{16}{k1,k2,k3}\brL{h11}{16}{k4,k5,k6}
\brL{d3}{16}{l1,l2,l3,l4}\brL{d4}{16}{l5}
% 范文5
\brL{p5a}{16}{m1,m2,m3,m4}\brL{p5b}{16}{m5}\brL{p5c}{16}{m6}\brL{p5d}{16}{m7}
\brL{p5e}{16}{n1,n2,n4,n5,n6}\brL{p5f}{16}{o20}
\brL{n1}{16}{o1,o2,o3}\brL{o3}{16}{r1,r2,r3,r4,r5,r6,r7}
\brL{n2}{16}{o4,o5,o6,o7,o8,o9}\brL{o7}{16}{r8,r9}
\brL{o9}{16}{r10,r11,r12}\brL{r12}{16}{bs1,bs2,bs3,bs4,bs5,bs6,bs7,bs8,bs9}
\brL{n4}{16}{o10,o11,o12,o13}\brL{n5}{16}{o14,o15,o16}\brL{n6}{16}{o17,o18,o19}
% 范文2
\brR{P2a}{16}{Q1}\brR{P2b}{16}{Q2,Q3}\brR{P2c}{16}{Q4}\brR{P2d}{16}{Q5,Q6}\brR{P2e}{16}{Q7}
\brR{P2f}{18}{S1,S2,S3,S4}
\brR{S1}{16}{T1,T2}\brR{T2}{16}{U1,U2,U3}
\brR{S2}{16}{T3,T4,T5,T6}\brR{T3}{16}{U4}
\brR{T4}{16}{V1,V2,V3,V4}\brR{V1}{16}{W1}\brR{V2}{16}{W2}\brR{V3}{16}{W3,W4}\brR{V4}{16}{W5,W6}
\brR{T5}{16}{V5,V6}\brR{V6}{16}{W7}
\brR{T6}{16}{V7,V8,V9}\brR{V7}{16}{W8}\brR{V8}{16}{W9,W10}\brR{W10}{16}{X1}\brR{V9}{16}{W11}
\brR{S3}{16}{T7,T8,T9,T10}\brR{T10}{16}{U5}
% 范文4
\brR{P4a}{18}{Y1,Y2}\brR{P4b}{16}{Y3,Y4}\brR{P4c}{18}{Y5,Y6}
\brR{Y5}{16}{Z1,Z2,Z3,Z4}\brR{Z4}{16}{Z5}
\brR{Y6}{16}{Z6,Z7,Z8,Z9,Z10,Z11}\brR{Z10}{16}{A1,A2,A3}\brR{A2}{16}{A4}
\brR{P4d}{16}{B1,B2,B3,B4,B5,B6,B7}
\brR{B3}{16}{C1,C2}\brR{C2}{16}{C3}
\brR{B4}{16}{C4,C5}\brR{C4}{16}{D1,D2}\brR{C5}{16}{D3,D4}
\brR{B5}{16}{C6,C7}\brR{B7}{16}{C8}\brR{C8}{16}{D5,D6}
\end{pgfonlayer}
\end{tikzpicture}
\end{document}
